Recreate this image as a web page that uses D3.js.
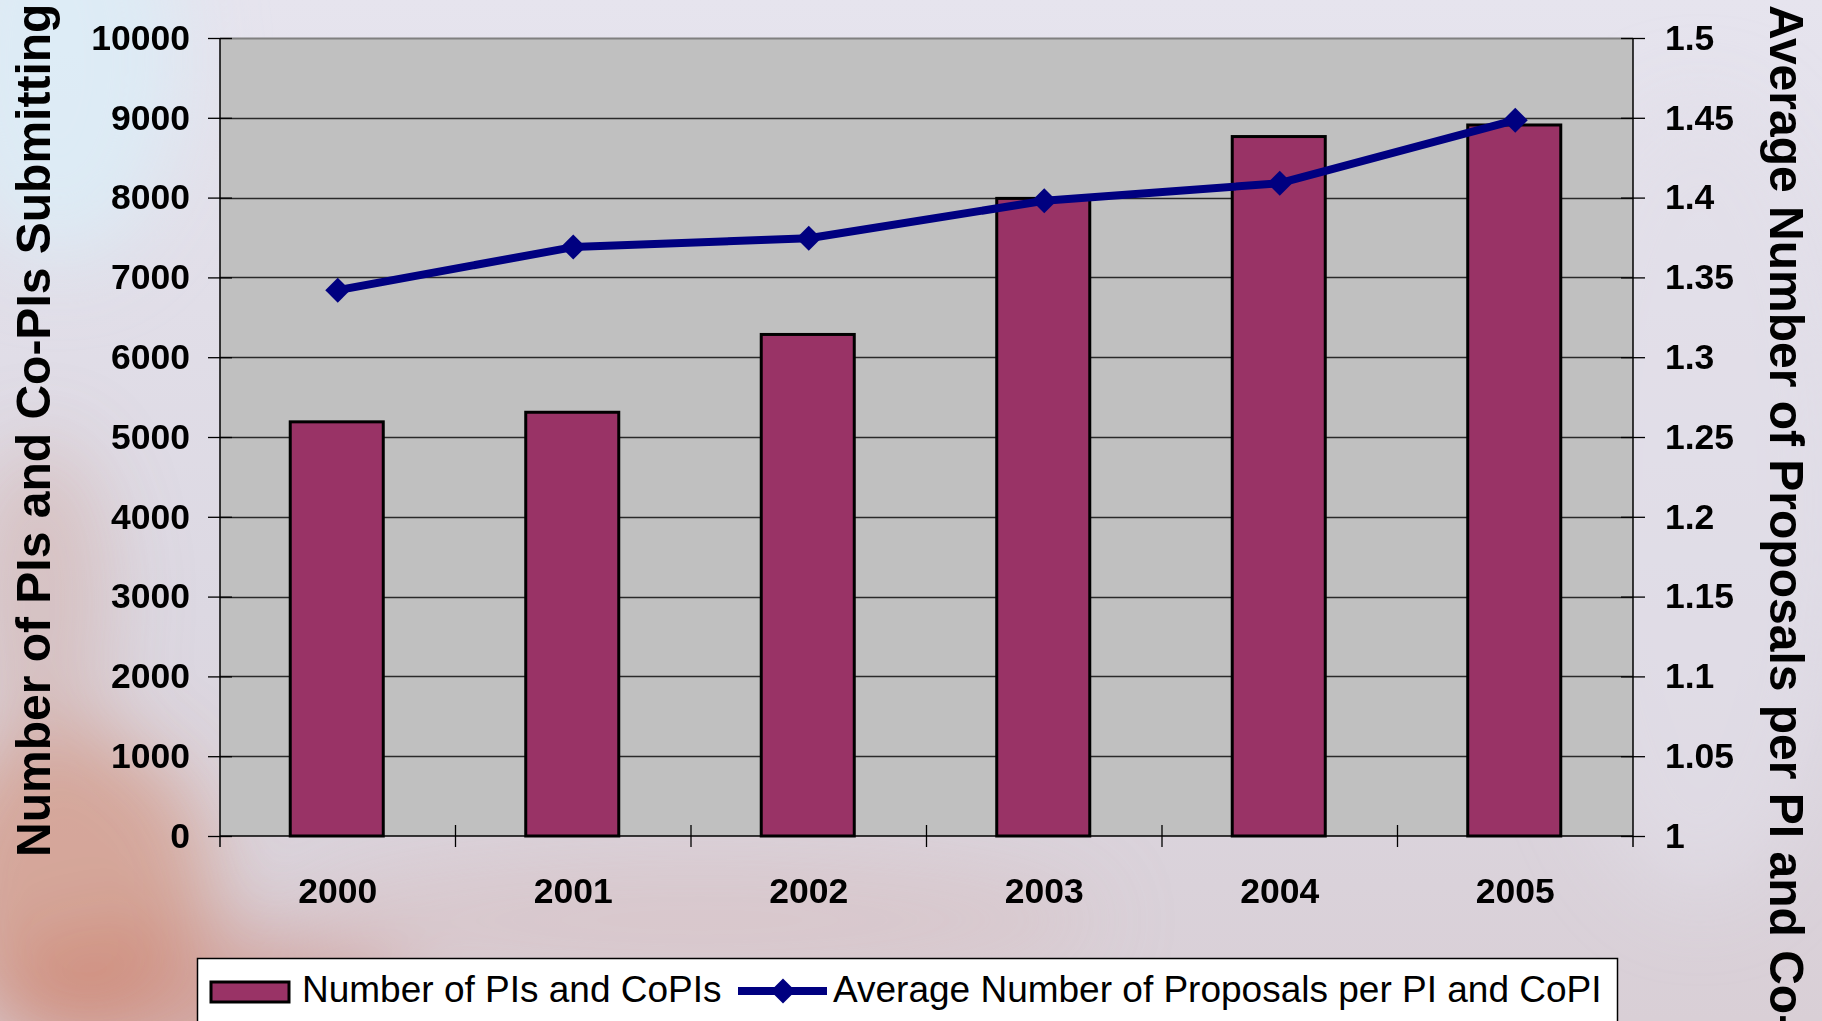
<!DOCTYPE html>
<html><head><meta charset="utf-8">
<script src="https://cdn.jsdelivr.net/npm/d3@7"></script>
<style>
html,body{margin:0;padding:0;overflow:hidden;}
svg{display:block;}
text{font-family:"Liberation Sans",Arial,sans-serif;}
</style></head>
<body>
<svg id="chart" width="1822" height="1021"></svg>
<script>
const years = ["2000","2001","2002","2003","2004","2005"];
const piCounts = [5190, 5310, 6285, 7990, 8765, 8910];
const avgProposals = [1.342, 1.369, 1.3745, 1.398, 1.409, 1.4485];
const leftTicks = [0,1000,2000,3000,4000,5000,6000,7000,8000,9000,10000];
const rightTicks = [1,1.05,1.1,1.15,1.2,1.25,1.3,1.35,1.4,1.45,1.5];
const leftTitle = "Number of PIs and Co-PIs Submitting";
const rightTitle = "Average Number of Proposals per PI and Co-PI";
const legendBar = "Number of PIs and CoPIs";
const legendLine = "Average Number of Proposals per PI and CoPI";

const svg = d3.select("#chart");
const W = 1822, H = 1021;
const L = 220, R = 1633, T = 38, B = 836;

// background
const defs = svg.append("defs");
const bg = defs.append("linearGradient").attr("id","bgLin").attr("x1",0).attr("y1",0).attr("x2",0).attr("y2",1);
bg.append("stop").attr("offset","0%").attr("stop-color","#e6e4ee");
bg.append("stop").attr("offset","60%").attr("stop-color","#dcd8e2");
bg.append("stop").attr("offset","100%").attr("stop-color","#d9cfd6");
svg.append("rect").attr("width",W).attr("height",H).attr("fill","url(#bgLin)");
const blur = defs.append("filter").attr("id","blur").attr("x","-50%").attr("y","-50%").attr("width","200%").attr("height","200%");
blur.append("feGaussianBlur").attr("stdDeviation",40);
const blobs = [
  {cx:60,cy:60,rx:120,ry:200,c:"#dcecf6",o:0.9},
  {cx:70,cy:880,rx:140,ry:150,c:"#cf7a5a",o:0.5},
  {cx:200,cy:1000,rx:220,ry:70,c:"#c86a50",o:0.4},
  {cx:40,cy:600,rx:70,ry:160,c:"#c98a78",o:0.3},
  {cx:700,cy:920,rx:400,ry:70,c:"#d6b8b8",o:0.35},
  {cx:1700,cy:500,rx:150,ry:400,c:"#e2e0ea",o:0.6}
];
svg.append("g").attr("filter","url(#blur)").selectAll("ellipse").data(blobs).join("ellipse")
  .attr("cx",d=>d.cx).attr("cy",d=>d.cy).attr("rx",d=>d.rx).attr("ry",d=>d.ry)
  .attr("fill",d=>d.c).attr("opacity",d=>d.o);

// scales
const x = d3.scaleBand().domain(years).range([L,R]).padding(0);
const y = d3.scaleLinear().domain([0,10000]).range([B,T]);
const y2 = d3.scaleLinear().domain([1,1.5]).range([B,T]);

// plot area
svg.append("rect").attr("x",L).attr("y",T).attr("width",R-L).attr("height",B-T)
  .attr("fill","#c0c0c0");
svg.append("line").attr("x1",L).attr("x2",R).attr("y1",T+0.5).attr("y2",T+0.5)
  .attr("stroke","#808080").attr("stroke-width",2);

// gridlines
svg.append("g").selectAll("line").data(leftTicks.filter(d=>d>0 && d<10000)).join("line")
  .attr("x1",L).attr("x2",R).attr("y1",d=>Math.round(y(d))+0.5).attr("y2",d=>Math.round(y(d))+0.5)
  .attr("stroke","#2a2a2a").attr("stroke-width",1.3);

// bars
const bw = x.bandwidth()*0.395;
svg.append("g").selectAll("rect").data(years).join("rect")
  .attr("x",(d)=>x(d)+x.bandwidth()/2-bw/2 - 1)
  .attr("y",(d,i)=>y(piCounts[i]))
  .attr("width",bw)
  .attr("height",(d,i)=>B-y(piCounts[i]))
  .attr("fill","#993366").attr("stroke","#000").attr("stroke-width",3);

// left axis
const ga = svg.append("g").attr("transform",`translate(${L},0)`)
  .call(d3.axisLeft(y).tickValues(leftTicks).tickSize(12).tickSizeOuter(0).tickPadding(18)
    .tickFormat(d=>String(d)));
ga.select(".domain").remove();
ga.selectAll(".tick line").attr("x1",12).attr("stroke","#000").attr("stroke-width",1.3);
ga.selectAll(".tick text").attr("font-size",35.5).attr("font-weight","bold").attr("fill","#000")
  .attr("font-family","Liberation Sans, Arial, sans-serif");
svg.append("line").attr("x1",L).attr("x2",L).attr("y1",T).attr("y2",B+11).attr("stroke","#000").attr("stroke-width",1.5);

// right axis
const gb = svg.append("g").attr("transform",`translate(${R},0)`)
  .call(d3.axisRight(y2).tickValues(rightTicks).tickSize(12).tickSizeOuter(0).tickPadding(20)
    .tickFormat(d=>String(+d.toFixed(2))));
gb.select(".domain").remove();
gb.selectAll(".tick line").attr("x1",-12).attr("stroke","#000").attr("stroke-width",1.3);
gb.selectAll(".tick text").attr("font-size",35.5).attr("font-weight","bold").attr("fill","#000")
  .attr("font-family","Liberation Sans, Arial, sans-serif");
svg.append("line").attr("x1",R).attr("x2",R).attr("y1",T).attr("y2",B+11).attr("stroke","#000").attr("stroke-width",1.5);

// bottom axis
svg.append("line").attr("x1",L).attr("x2",R).attr("y1",B).attr("y2",B).attr("stroke","#000").attr("stroke-width",1.5);
const bounds = years.slice(1).map(d=>x(d));
svg.append("g").selectAll("line").data(bounds).join("line")
  .attr("x1",d=>d).attr("x2",d=>d).attr("y1",B-11).attr("y2",B+11)
  .attr("stroke","#000").attr("stroke-width",1.3);
svg.append("g").selectAll("text").data(years).join("text")
  .attr("x",d=>x(d)+x.bandwidth()/2).attr("y",903)
  .attr("text-anchor","middle").attr("font-size",35.5).attr("font-weight","bold").text(d=>d);

// line series
const pts = years.map((d,i)=>[x(d)+x.bandwidth()/2, y2(avgProposals[i])]);
svg.append("path").attr("d",d3.line()(pts)).attr("fill","none")
  .attr("stroke","#000080").attr("stroke-width",8).attr("stroke-linejoin","round");
const dia = d3.symbol().type(d3.symbolDiamond2).size(400);
svg.append("g").selectAll("path").data(pts).join("path")
  .attr("transform",d=>`translate(${d[0]},${d[1]})`).attr("d",dia())
  .attr("fill","#000080");

// axis titles
svg.append("text").attr("transform","translate(50,857) rotate(-90)")
  .attr("font-size",48).attr("font-weight","bold").text(leftTitle);
svg.append("text").attr("transform","translate(1770,5) rotate(90)")
  .attr("font-size",48).attr("font-weight","bold").text(rightTitle);

// legend
svg.append("rect").attr("x",197.5).attr("y",958.5).attr("width",1420).attr("height",100)
  .attr("fill","#fff").attr("stroke","#000").attr("stroke-width",1.5);
svg.append("rect").attr("x",211).attr("y",982).attr("width",78).attr("height",20)
  .attr("fill","#993366").attr("stroke","#000").attr("stroke-width",3);
svg.append("text").attr("x",302).attr("y",1002).attr("font-size",37).text(legendBar);
svg.append("line").attr("x1",738).attr("x2",827).attr("y1",991).attr("y2",991)
  .attr("stroke","#000080").attr("stroke-width",8);
svg.append("path").attr("transform","translate(783,991)").attr("d",dia()).attr("fill","#000080");
svg.append("text").attr("x",833).attr("y",1002).attr("font-size",37).text(legendLine);
</script>
</body></html>
